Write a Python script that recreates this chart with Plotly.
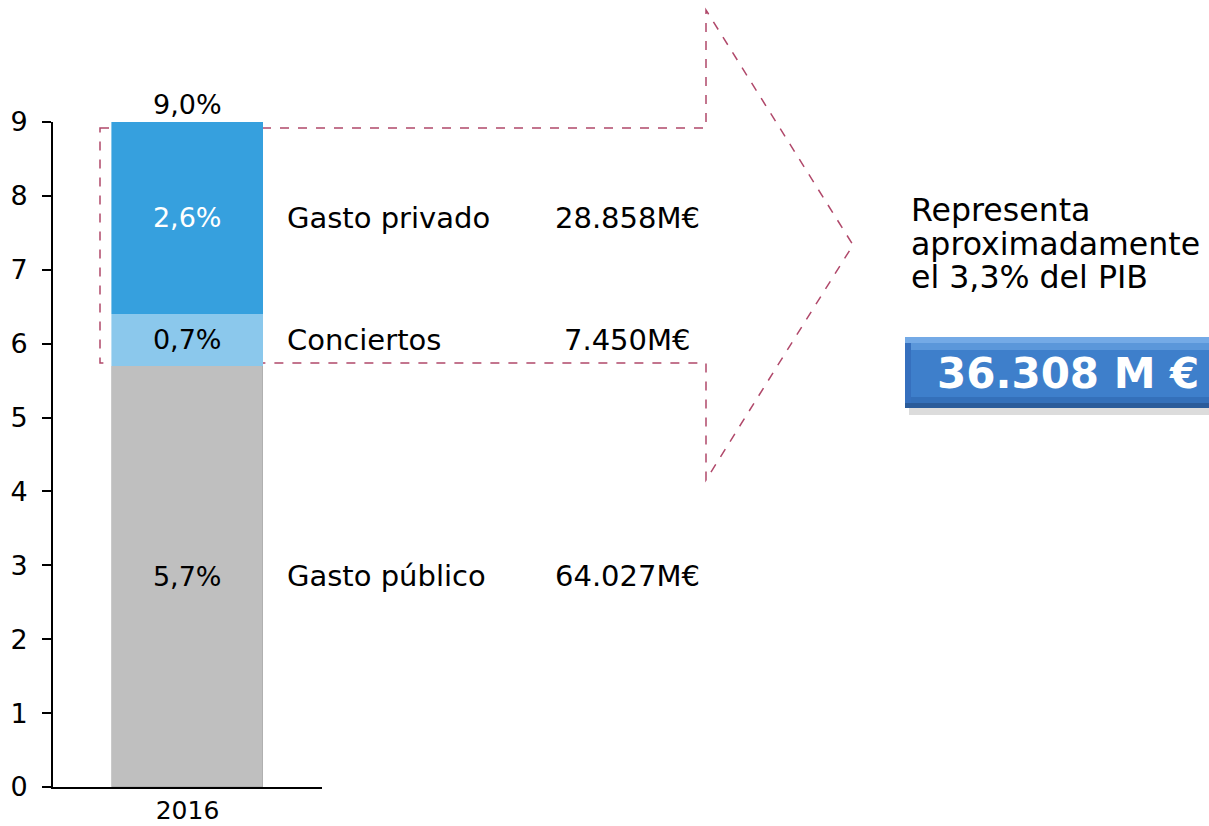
import plotly.graph_objects as go

# data
years = ["2016"]
segments = ["Gasto público", "Conciertos", "Gasto privado"]
pct_values = [5.7, 0.7, 2.6]
pct_labels = ["5,7%", "0,7%", "2,6%"]
euro_labels = ["64.027M€", "7.450M€", "28.858M€"]
total_label = "9,0%"
pib_lines = ["Representa", "aproximadamente", "el 3,3% del PIB"]
box_label = "36.308 M €"
y_ticks = list(range(0, 10))
y_max = 9

colors = ["#BFBFBF", "#8BC8EC", "#36A0DE"]
text_colors = ["black", "black", "white"]
FONT = "DejaVu Sans"
ARROW = "#B0486A"

W, H = 1209, 826
L, R, T, B = 53, 887, 122, 39  # plot area in pixels


def px(x):  # pixel x -> paper x
    return (x - L) / (W - L - R)


def py(y):  # pixel y -> paper y
    return (H - B - y) / (H - T - B)


fig = go.Figure()

for name, val, lab, col, tcol in zip(segments, pct_values, pct_labels, colors, text_colors):
    fig.add_trace(
        go.Bar(
            x=years,
            y=[val],
            name=name,
            text=[lab],
            textposition="inside",
            insidetextanchor="middle",
            textangle=0,
            constraintext="none",
            textfont=dict(family=FONT, size=27, color=tcol),
            marker=dict(color=col, line=dict(color="#A6A6A6" if col == "#BFBFBF" else col, width=0.6)),
            width=0.56,
            showlegend=False,
            hoverinfo="skip",
        )
    )

annotations = []
total = sum(pct_values)
annotations.append(dict(xref="paper", yref="paper", x=0.5, y=total / y_max, text=total_label,
                        showarrow=False, xanchor="center", yanchor="bottom",
                        font=dict(family=FONT, size=27, color="black")))

# side labels and amounts at the middle of each segment
base = 0
for name, val, eur in zip(segments, pct_values, euro_labels):
    mid = base + val / 2
    base += val
    annotations.append(dict(xref="paper", yref="y", x=px(285), y=mid, text=name, showarrow=False,
                            xanchor="left", font=dict(family=FONT, size=29, color="black")))
    annotations.append(dict(xref="paper", yref="y", x=px(627), y=mid, text=eur, showarrow=False,
                            xanchor="center", font=dict(family=FONT, size=29, color="black")))

for i, line in enumerate(pib_lines):
    annotations.append(dict(xref="paper", yref="paper", x=px(909), y=py(210 + i * 33.5), text=line,
                            showarrow=False, xanchor="left", yanchor="middle",
                            font=dict(family=FONT, size=31.6, color="black")))

annotations.append(dict(xref="paper", yref="paper", x=px(1068), y=py(373), text="<b>" + box_label + "</b>",
                        showarrow=False, xanchor="center", yanchor="middle",
                        font=dict(family=FONT, size=42, color="white")))

shapes = []
# dashed arrow outline
pts = [(100, 128), (706, 128), (706, 10), (853, 245), (706, 480), (706, 363), (100, 363)]
path = "M " + " L ".join(f"{px(x)},{py(y)}" for x, y in pts) + " Z"
shapes.append(dict(type="path", xref="paper", yref="paper", path=path,
                   line=dict(color=ARROW, width=1.5, dash="dash"), layer="below"))

# total box with shadow and rough gradient
shapes.append(dict(type="rect", xref="paper", yref="paper", x0=px(909), x1=px(1240), y0=py(415), y1=py(343),
                   fillcolor="rgba(140,140,140,0.3)", line=dict(width=0)))
bands = [(337, 343, "#74AAE6"), (343, 350, "#5B97DA"), (350, 397, "#3E7FCB"),
         (397, 403, "#3470BA"), (403, 408, "#2A5B9A")]
for y0, y1, c in bands:
    shapes.append(dict(type="rect", xref="paper", yref="paper", x0=px(905), x1=px(1240),
                       y0=py(y1), y1=py(y0), fillcolor=c, line=dict(width=0)))
shapes.append(dict(type="rect", xref="paper", yref="paper", x0=px(905), x1=px(911),
                   y0=py(403), y1=py(343), fillcolor="#3670BE", line=dict(width=0)))

fig.update_layout(
    width=W,
    height=H,
    margin=dict(l=L, r=R, t=T, b=B),
    barmode="stack",
    plot_bgcolor="white",
    paper_bgcolor="white",
    font=dict(family=FONT, color="black"),
    annotations=annotations,
    shapes=shapes,
    bargap=0,
)
fig.update_xaxes(type="category", showline=True, linecolor="black", linewidth=2, ticks="",
                 showgrid=False, automargin=False, ticklabelstandoff=0,
                 tickfont=dict(family=FONT, size=25, color="black"), range=[-0.5, 0.5])
fig.update_yaxes(range=[0, y_max], tickvals=y_ticks, showline=True, linecolor="black", linewidth=2,
                 ticks="outside", ticklen=9, tickwidth=2, tickcolor="black", showgrid=False,
                 zeroline=False, ticklabelstandoff=9, automargin=False,
                 tickfont=dict(family=FONT, size=27, color="black"))

# drop the browser's default body margin so the figure sits at the window origin
fig.write_html("out.html", config={"displayModeBar": False},
               post_script="document.body.style.margin='0';document.body.style.overflow='hidden';")
